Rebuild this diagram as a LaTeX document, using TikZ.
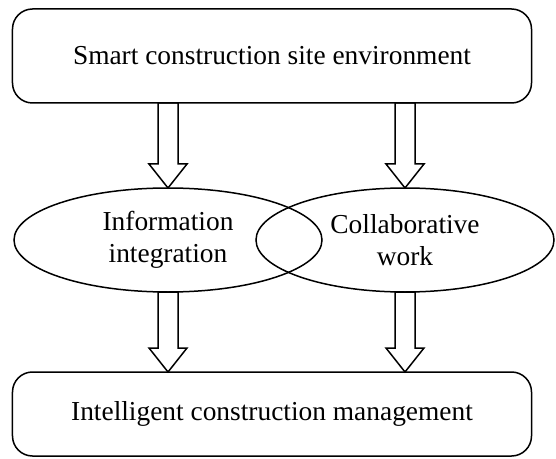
\documentclass[tikz,border=0pt]{standalone}
\usepackage{fontspec}
\setmainfont{Liberation Serif}
\usetikzlibrary{positioning,calc,shapes.geometric}

\begin{document}
\begin{tikzpicture}[x=1bp,y=-1bp,line width=1.5bp,
    every node/.style={inner sep=0,outer sep=0,align=center,font=\fontsize{27.5}{32}\selectfont},
    box/.style={draw,rounded corners=20bp,minimum width=519bp},
    oval/.style={draw,ellipse,minimum height=104bp},
    fatarrow/.style={to path={let \p1=(\tikztostart), \p2=(\tikztotarget) in
        (\x1-10bp,\y1) -- (\x1-10bp,\y2+24bp) -- (\x1-19bp,\y2+24bp) -- (\x2,\y2)
        -- (\x1+19bp,\y2+24bp) -- (\x1+10bp,\y2+24bp) -- (\x1+10bp,\y1) -- cycle}}]
    \useasboundingbox (0,0) rectangle (556,459);
    \node[box,minimum height=94bp] (B1) at (272,56) {Smart construction site environment};
    \node[oval,minimum width=308bp] (E1) at (168,240) {Information\\integration};
    \node[oval,minimum width=298bp] (E2) at (405,240) {Collaborative\\work};
    \node[box,minimum height=84bp] (B2) at (272,414) {Intelligent construction management};
    \path
        (E1.north |- B1.south) edge[fatarrow] (E1.north)
        (E2.north |- B1.south) edge[fatarrow] (E2.north)
        (E1.south) edge[fatarrow] (E1.south |- B2.north)
        (E2.south) edge[fatarrow] (E2.south |- B2.north);
\end{tikzpicture}
\end{document}
